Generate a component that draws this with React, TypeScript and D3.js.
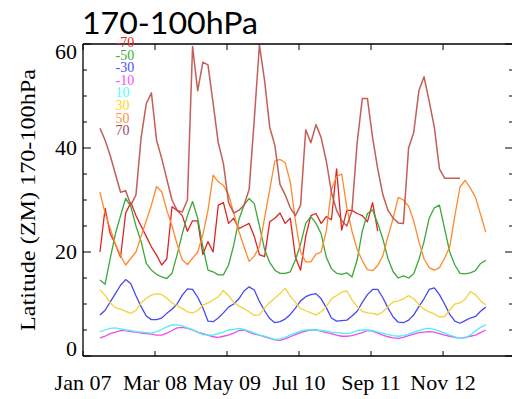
import * as d3 from "d3";

// x axis: months after Jan 2007, ticks every 14 months
const tickMonths = [0, 14, 28, 42, 56, 70];
const tickLabels = ["Jan 07", "Mar 08", "May 09", "Jul 10", "Sep 11", "Nov 12"];
const firstMonth = 3.3; // first monthly sample (Apr 2007)

const seriesNames = ["-70", "-50", "-30", "-10", "10", "30", "50", "70"];
const lineColors = ["#de2424", "#3aa83a", "#4848ee", "#ee4cee", "#4cf0f0", "#f3d23c", "#ff8a2c", "#bd4c47"];
const legendColors = ["#e8231c", "#35b03c", "#4f4fff", "#ff4cff", "#4cffff", "#ffd21e", "#ff8f3c", "#9c4a66"];

const latM70 = [20, 28.4, 23.5, 21.5, 19, 27.5, 29.5, 27, 25, 23, 21, 19.4, 17.5, 18.7, 28.7, 28, 27, 24, 26, 26,
  19.5, 22, 20, 29, 29.5, 25.5, 26.5, 24.5, 25, 25.5, 23, 19.5, 19.1, 25.8, 26.5, 27.5, 25.5, 26.5, 19, 16.5,
  23, 27, 27.4, 25.5, 26.8, 26.2, 36, 24.2, 28, 28, 27.4, 27, 25.8, 29.5, 24];
const latM50 = [14.6, 13.8, 18.8, 23.5, 27, 30.3, 28.7, 25, 22, 17.8, 16.5, 15.7, 15.2, 14.9, 15.9, 19.5, 23.5, 27, 29.7, 26.5,
  21, 16.5, 16.2, 15.6, 15.6, 17.5, 21.3, 26.2, 29, 30.3, 29.3, 25, 20.5, 18, 16.5, 15.9, 15.9, 16.2, 18.5, 21.5,
  25.5, 26.8, 25.5, 23.5, 19, 16.8, 15.9, 15.7, 16, 15.2, 18.5, 24, 27.4, 28.1, 25.5, 22.5, 18.7, 16.2, 15, 15.4,
  15, 15.8, 18.5, 22, 26.5, 28.5, 29, 24.5, 20, 17.5, 15.9, 15.8, 16, 16.4, 17.8, 18.4];
const latM30 = [7.9, 8.8, 10.4, 12, 13.6, 14.7, 13.9, 11.6, 9.5, 7.7, 7, 7, 7.3, 8.2, 9, 10, 11.7, 12.9, 12.8, 11.3,
  9.3, 6.7, 6.6, 7.3, 8.3, 9.4, 10, 11, 12.5, 13.3, 12.7, 10.5, 8.7, 7.2, 6.4, 6.6, 7.1, 8, 9.2, 10.6,
  11.4, 11.8, 12, 11, 9.3, 7.3, 6.7, 6.8, 6.9, 7.7, 8.6, 10.3, 11.8, 12.8, 12.8, 11.2, 9.2, 7.5, 6.5, 6.4,
  6.9, 7.9, 9.5, 11, 12.8, 13.1, 11.8, 10, 8, 6.7, 6.3, 6.8, 7.3, 7.6, 8.6, 9.4];
const latM10 = [3.5, 3.8, 4.3, 4.6, 4.9, 4.9, 4.7, 4.6, 4.4, 4.3, 4.2, 4, 4, 4.4, 4.9, 5.4, 5.5, 5.3, 5, 4.6,
  4.3, 4, 3.7, 3.6, 3.8, 4, 4.4, 4.9, 5, 4.6, 4.2, 4, 3.7, 3.4, 3.1, 3, 3.3, 3.7, 4.1, 4.5,
  4.8, 5, 5, 4.8, 4.5, 4.3, 4, 3.8, 3.8, 3.9, 4.2, 4.5, 4.9, 4.8, 4.4, 4, 3.7, 3.5, 3.4, 3.6,
  3.9, 4.2, 4.5, 4.6, 4.7, 4.6, 4.3, 4, 3.8, 3.6, 3.4, 3.6, 3.8, 4, 4.5, 5];
const latP10 = [4.7, 5, 5.3, 5.4, 5.2, 5, 4.9, 4.7, 4.6, 4.5, 4.4, 4.7, 5.1, 5.6, 6, 6, 5.8, 5.4, 5.1, 4.6,
  4.1, 4, 4, 4.3, 4.6, 5, 5.1, 5.3, 5.1, 4.8, 4.4, 4, 3.8, 3.5, 3.2, 3.3, 3.6, 4, 4.4, 4.8,
  5, 5, 5, 4.9, 4.8, 4.6, 4.5, 4.4, 4.3, 4.5, 4.9, 5, 5, 4.9, 4.6, 4.4, 4.1, 3.9, 3.8, 3.9,
  4.2, 4.6, 4.9, 5.2, 5.3, 5.1, 4.8, 4.4, 4, 3.7, 3.4, 3.5, 4, 4.8, 5.5, 6];
const latP30 = [12.7, 11.7, 10.2, 9.3, 9, 8.6, 8.2, 8.8, 10.2, 11.1, 11.7, 12, 11.8, 11.1, 10.2, 9.7, 9.1, 8.5, 8.3, 8.7,
  9.8, 10.2, 10.8, 11.4, 12.6, 11.6, 10.3, 9.6, 9.1, 8.5, 7.8, 7.9, 9.2, 10.3, 11.1, 12, 13, 11.5, 10.3, 9.1,
  8.7, 8.3, 7.9, 8.5, 9.5, 11, 11.6, 12.3, 12.5, 10.8, 9.5, 8.6, 8.3, 8.2, 7.9, 8.5, 9.5, 10.4, 10.6, 11,
  11.6, 11, 9.9, 9, 8.5, 8.1, 7.5, 7.6, 8.8, 10, 10.2, 10.9, 12.4, 11.8, 10.6, 9.8];
const latP50 = [31.5, 27.4, 24.5, 21.5, 19.3, 17.5, 18.8, 20, 23, 26, 29, 32.6, 31.6, 28, 25, 21.5, 18.5, 17.6, 18.8, 20,
  23.3, 28, 34.8, 33.5, 32.8, 31, 27.5, 24, 21, 18.2, 19.2, 21, 26.5, 32, 37.5, 37.8, 37.2, 33.5, 26, 20,
  18.1, 18.1, 19.6, 20, 24, 32, 34.5, 35, 28.5, 24, 20.5, 18.3, 16.6, 16.4, 17.4, 19.3, 23, 26.5, 30.5, 30,
  28.8, 26, 22, 18.7, 17, 16.5, 17, 18.8, 21, 27, 32.5, 33.8, 32.3, 30.5, 27.2, 23.8];
const latP70 = [43.8, 41.5, 38.5, 35, 31.5, 31.8, 29, 31, 42, 48.5, 50.6, 41.5, 38, 34, 30, 28, 27.7, 30, 59.5, 51,
  56.5, 56, 48.6, 41, 37, 29.5, 27.5, 28, 29, 32, 45.5, 59.8, 53, 44, 40.5, 33, 31, 28.5, 27, 29,
  43.5, 41, 44.5, 42, 37.5, 31.5, 28, 26, 25, 28, 41, 49.5, 49.5, 42, 36, 31, 28, 26.5, 25.6, 25.5,
  40, 43, 51, 53.7, 49, 44, 36, 34.2, 34.2, 34.2, 34.2];

const allSeries = [latM70, latM50, latM30, latM10, latP10, latP30, latP50, latP70];

const width = 512;
const height = 399;
const margin = { top: 44, right: 513, bottom: 356, left: 83 };

const App = () => {
  const x = d3.scaleLinear().domain([0, 83.6]).range([margin.left, margin.right]);
  const y = d3.scaleLinear().domain([0, 60]).range([margin.bottom, margin.top]);

  const line = d3
    .line<number>()
    .x((_, i) => x(firstMonth + i))
    .y((d) => y(d));

  const yTicks = d3.range(0, 61, 5);
  const yLabels = [0, 20, 40, 60];
  const serif = "'Liberation Serif', 'Times New Roman', serif";

  return (
    <div style={{ position: "absolute", left: 0, top: 0 }}>
      <svg width={width} height={height} style={{ display: "block", background: "#fff" }}>
        <text x={82} y={34} fontFamily="Lato, 'Liberation Sans', sans-serif" fontSize={31}
          textLength={176} lengthAdjust="spacingAndGlyphs" fill="#000">
          170-100hPa
        </text>

        {allSeries.map((s, k) => (
          <path key={k} d={line(s) ?? ""} fill="none" stroke={lineColors[k]}
            strokeWidth={k === 7 ? 1.5 : 1.3} strokeOpacity={k === 7 ? 0.9 : 1} strokeLinejoin="round" />
        ))}

        {/* frame */}
        <g stroke="#000" fill="none" strokeWidth={1.3}>
          <line x1={margin.left} x2={margin.right} y1={margin.top} y2={margin.top} />
          <line x1={margin.left} x2={margin.right} y1={margin.bottom} y2={margin.bottom} />
          <line x1={margin.left} x2={margin.left} y1={margin.top} y2={margin.bottom} />
          <line x1={margin.right} x2={margin.right} y1={margin.top} y2={margin.bottom} />
        </g>

        {/* y ticks */}
        <g stroke="#000" strokeWidth={1}>
          {yTicks.map((t) => {
            const len = t % 20 === 0 ? 8 : 4;
            return (
              <g key={t}>
                <line x1={margin.left} x2={margin.left + len} y1={y(t)} y2={y(t)} />
                <line x1={margin.right - len} x2={margin.right} y1={y(t)} y2={y(t)} />
              </g>
            );
          })}
        </g>
        {yLabels.map((t) => (
          <text key={t} x={77} y={Math.min(Math.max(y(t), 52), 349) + 7} textAnchor="end"
            fontFamily={serif} fontSize={22} fill="#000">
            {t}
          </text>
        ))}

        {/* x ticks */}
        <g stroke="#000" strokeWidth={1}>
          {tickMonths.map((m) => (
            <g key={m}>
              <line x1={x(m)} x2={x(m)} y1={margin.bottom} y2={margin.bottom - 5} />
              <line x1={x(m)} x2={x(m)} y1={margin.top} y2={margin.top + 6} />
            </g>
          ))}
        </g>
        {tickMonths.map((m, i) => (
          <text key={m} x={x(m)} y={390} textAnchor="middle" fontFamily={serif} fontSize={22} fill="#000">
            {tickLabels[i]}
          </text>
        ))}

        <text transform="translate(35,200) rotate(-90)" textAnchor="middle" fontFamily={serif}
          fontSize={22} textLength={262} lengthAdjust="spacingAndGlyphs" fill="#000">
          Latitude (ZM) 170-100hPa
        </text>

        {seriesNames.map((n, k) => (
          <text key={n} x={115.5} y={47 + k * 12.6} fontFamily={serif} fontSize={14} fill={legendColors[k]}>
            {n}
          </text>
        ))}
      </svg>
    </div>
  );
};

export default App;
